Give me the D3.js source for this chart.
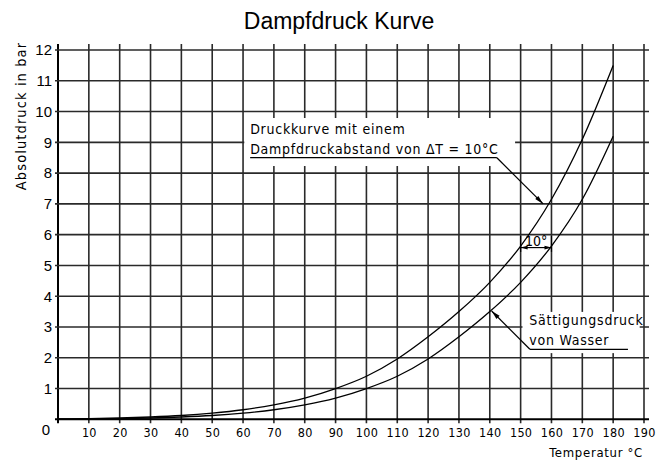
<!DOCTYPE html>
<html>
<head>
<meta charset="utf-8">
<script src="https://cdnjs.cloudflare.com/ajax/libs/d3/7.8.5/d3.min.js"></script>
<style>
  body { margin: 0; background: #fff; }
  svg { display: block; }
</style>
</head>
<body>
<div id="chart"></div>
<script>
// temperatures in °C
let temps = [0, 10, 20, 30, 40, 50, 60, 70, 80, 90, 100, 110, 120, 130, 140, 150, 160, 170, 180];
// Sättigungsdruck von Wasser (bar)
let saettigung = [0.006, 0.012, 0.023, 0.042, 0.074, 0.123, 0.2, 0.31, 0.47, 0.69, 1.0, 1.4, 1.96, 2.68, 3.5, 4.45, 5.63, 7.15, 9.2];
// Druckkurve mit dT = 10°C (bar)
let druckkurve = [0.012, 0.023, 0.042, 0.074, 0.123, 0.2, 0.31, 0.47, 0.69, 1.0, 1.4, 1.96, 2.68, 3.5, 4.45, 5.63, 7.15, 9.1, 11.5];
let xTicks = [10, 20, 30, 40, 50, 60, 70, 80, 90, 100, 110, 120, 130, 140, 150, 160, 170, 180, 190];
let yTicks = [1, 2, 3, 4, 5, 6, 7, 8, 9, 10, 11, 12];

let cadFont = '"DejaVu Sans Condensed", "DejaVu Sans", sans-serif';
let arialFont = '"Liberation Sans", Arial, sans-serif';

let width = 666, height = 462;
let margin = { top: 50, right: 22, bottom: 42.7, left: 58 };

let x = d3.scaleLinear().domain([0, 190]).range([margin.left, width - margin.right]);
let y = d3.scaleLinear().domain([0, 12]).range([height - margin.bottom, margin.top]);

let svg = d3.select('#chart').append('svg')
    .attr('width', width)
    .attr('height', height);

// title
svg.append('text')
    .attr('x', 339).attr('y', 29)
    .attr('text-anchor', 'middle')
    .style('font-family', arialFont)
    .style('font-size', '23px')
    .text('Dampfdruck Kurve');

// grid
let grid = svg.append('g');
grid.selectAll('line.v').data(d3.range(0, 200, 10))
    .enter().append('line')
    .attr('class', 'v')
    .attr('x1', d => x(d)).attr('x2', d => x(d))
    .attr('y1', y(12) - 6).attr('y2', y(0) + 4)
    .attr('stroke', d => d == 0 ? '#000' : '#2a2a2a')
    .attr('stroke-width', d => d == 0 ? 2 : 1.6);

grid.selectAll('line.h').data(d3.range(0, 13))
    .enter().append('line')
    .attr('class', 'h')
    .attr('y1', d => y(d)).attr('y2', d => y(d))
    .attr('x1', x(0) - 3).attr('x2', x(190) + 5)
    .attr('stroke', d => d == 0 ? '#000' : '#2a2a2a')
    .attr('stroke-width', d => d == 0 ? 2 : 1.6);

// white label backgrounds (data units)
let boxes = [
    { t0: 60.4, t1: 148.2, p0: 8.23, p1: 9.79 },
    { t0: 150.6, t1: 188.6, p0: 2.15, p1: 3.49 }
];
svg.selectAll('rect.bg').data(boxes)
    .enter().append('rect')
    .attr('x', d => x(d.t0)).attr('width', d => x(d.t1) - x(d.t0))
    .attr('y', d => y(d.p1)).attr('height', d => y(d.p0) - y(d.p1))
    .attr('fill', '#fff');

// axes labels
let yAxis = d3.axisLeft(y).tickValues(yTicks).tickSize(0).tickPadding(6);
let yg = svg.append('g').attr('transform', 'translate(' + x(0) + ',0)').call(yAxis);
yg.select('.domain').remove();
yg.selectAll('text').style('font-family', arialFont).style('font-size', '15px');

let xAxis = d3.axisBottom(x).tickValues(xTicks).tickSize(0).tickPadding(8.6);
let xg = svg.append('g').attr('transform', 'translate(0,' + y(0) + ')').call(xAxis);
xg.select('.domain').remove();
xg.selectAll('text').style('font-family', cadFont).style('font-size', '12.5px')
    .style('letter-spacing', '0.3px');

svg.append('text')
    .attr('x', x(0) - 12).attr('y', y(0) + 16)
    .attr('text-anchor', 'middle')
    .style('font-family', arialFont)
    .style('font-size', '15px')
    .text('0');

svg.append('text')
    .attr('x', 643).attr('y', 456.5)
    .attr('text-anchor', 'end')
    .style('font-family', cadFont)
    .style('font-size', '13px')
    .style('letter-spacing', '0.7px')
    .text('Temperatur °C');

svg.append('text')
    .attr('transform', 'translate(26,116) rotate(-90)')
    .attr('text-anchor', 'middle')
    .style('font-family', cadFont)
    .style('font-size', '14.5px')
    .style('letter-spacing', '1.1px')
    .text('Absolutdruck in bar');

// curves
let line = d3.line()
    .x((d, i) => x(temps[i]))
    .y(d => y(d))
    .curve(d3.curveMonotoneX);

[saettigung, druckkurve].forEach(function (series) {
    svg.append('path')
        .datum(series)
        .attr('d', line)
        .attr('fill', 'none')
        .attr('stroke', '#000')
        .attr('stroke-width', 1.3);
});

// annotations
function arrowHead(tip, from, len, half) {
    let dx = from[0] - tip[0], dy = from[1] - tip[1];
    let l = Math.sqrt(dx * dx + dy * dy);
    let ux = dx / l, uy = dy / l;
    let bx = tip[0] + ux * len, by = tip[1] + uy * len;
    svg.append('path')
        .attr('d', 'M' + tip[0] + ',' + tip[1] +
            'L' + (bx - uy * half) + ',' + (by + ux * half) +
            'L' + (bx + uy * half) + ',' + (by - ux * half) + 'Z')
        .attr('fill', '#000');
}

let notes = [
    { lines: ['Druckkurve mit einem', 'Dampfdruckabstand von \u0394T = 10°C'], t: 62.3, p: [9.26, 8.61],
      under: [62.3, 142.3, 8.5], from: 'end', tip: [157.3, 7.0] },
    { lines: ['Sättigungsdruck', 'von Wasser'], t: 152.8, p: [3.06, 2.42],
      under: [153.0, 184.8, 2.275], from: 'start', tip: [140.6, 3.52] }
];

notes.forEach(function (n) {
    n.lines.forEach(function (s, i) {
        svg.append('text')
            .attr('x', x(n.t)).attr('y', y(n.p[i]))
            .style('font-family', cadFont)
            .style('font-size', '14px')
            .style('letter-spacing', '0.75px')
            .text(s);
    });
    let ux = n.from == 'end' ? n.under[1] : n.under[0];
    let start = [x(ux), y(n.under[2])];
    let tip = [x(n.tip[0]), y(n.tip[1])];
    svg.append('line')
        .attr('x1', x(n.under[0])).attr('x2', x(n.under[1]))
        .attr('y1', y(n.under[2])).attr('y2', y(n.under[2]))
        .attr('stroke', '#000').attr('stroke-width', 1.2);
    svg.append('line')
        .attr('x1', start[0]).attr('y1', start[1])
        .attr('x2', tip[0]).attr('y2', tip[1])
        .attr('stroke', '#000').attr('stroke-width', 1.2);
    arrowHead(tip, start, 9, 2.2);
});

// 10° dimension
let dim = { t0: 150.0, t1: 160.0, p: 5.58, top: 5.96, bottom: 5.44 };
[dim.t0, dim.t1].forEach(function (t) {
    svg.append('line')
        .attr('x1', x(t)).attr('x2', x(t))
        .attr('y1', y(dim.top)).attr('y2', y(dim.bottom))
        .attr('stroke', '#000').attr('stroke-width', 1.2);
});
svg.append('line')
    .attr('x1', x(dim.t0)).attr('x2', x(dim.t1))
    .attr('y1', y(dim.p)).attr('y2', y(dim.p))
    .attr('stroke', '#000').attr('stroke-width', 1.2);
arrowHead([x(dim.t0), y(dim.p)], [x(dim.t1), y(dim.p)], 7, 1.8);
arrowHead([x(dim.t1), y(dim.p)], [x(dim.t0), y(dim.p)], 7, 1.8);
svg.append('text')
    .attr('x', x((dim.t0 + dim.t1) / 2)).attr('y', y(dim.p) - 1.5)
    .attr('text-anchor', 'middle')
    .style('font-family', cadFont)
    .style('font-size', '14px')
    .text('10°');
</script>
</body>
</html>
